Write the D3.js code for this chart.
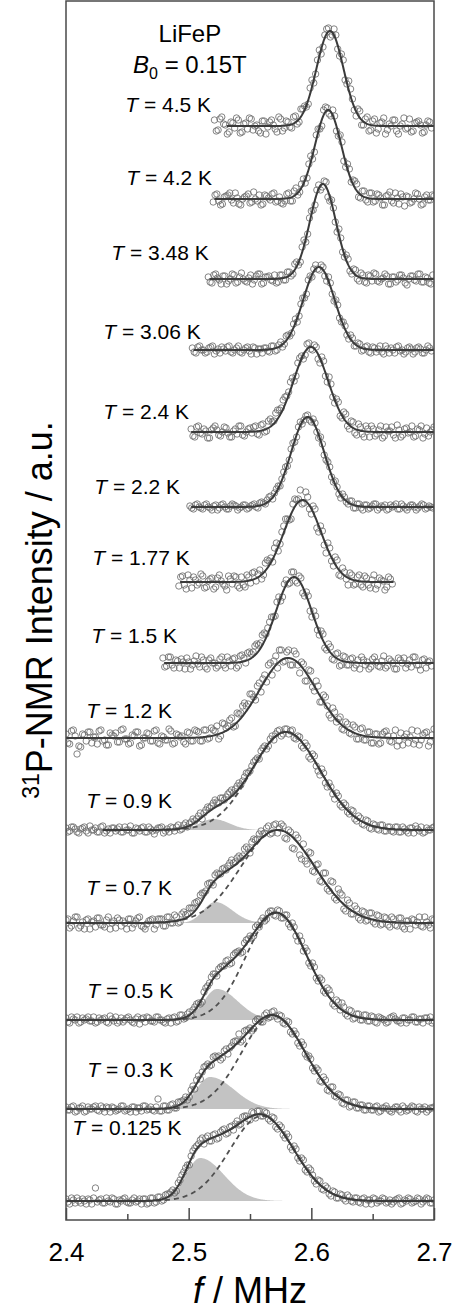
<!DOCTYPE html>
<html>
<head>
<meta charset="utf-8">
<script src="https://cdn.jsdelivr.net/npm/d3@7"></script>
<style>
  body { margin: 0; background: #fff; }
  svg { display: block; }
  text { font-family: "Liberation Sans", Arial, sans-serif; fill: #000; }
</style>
</head>
<body>
<svg id="chart" width="454" height="1314"></svg>
<script>
// ---------------------------------------------------------------
// 31P-NMR spectra of LiFeP at B0 = 0.15 T, stacked by temperature
// ---------------------------------------------------------------

// Temperatures (K), top to bottom
const temperatures = ["4.5", "4.2", "3.48", "3.06", "2.4", "2.2", "1.77", "1.5", "1.2", "0.9", "0.7", "0.5", "0.3", "0.125"];

// Vertical offset of each spectrum's baseline (a.u.)
const offsets = [10.94, 10.21, 9.41, 8.70, 7.88, 7.13, 6.38, 5.57, 4.82, 3.90, 2.97, 2.00, 1.11, 0.19];

// Two interleaved frequency sweeps per spectrum: first point of each (MHz), common step (MHz)
const sweepStartA = [2.521, 2.520, 2.516, 2.503, 2.502, 2.501, 2.492, 2.479, 2.400, 2.400, 2.400, 2.400, 2.400, 2.400];
const sweepStartB = [2.5225, 2.5215, 2.5175, 2.5045, 2.5035, 2.5025, 2.4935, 2.4805, 2.4015, 2.4015, 2.4015, 2.4015, 2.4015, 2.4015];
const sweepStep = 0.003;

// Measured intensities above baseline, in units of 0.01 a.u. (sweep A)
const int_4p5 = [6,-4,9,1,-6,3,8,-7,2,-3,7,0,-5,5,-8,4,1,-6,7,-2,
  4,-2,10,4,17,19,38,43,66,72,91,98,91,91,70,66,42,37,16,17,1,7,-5,
  5,-7,3,8,-4,0,6,-8,2,-3,7,-5,4,1,-6,5,-2];
const int_4p2 = [-3,5,-6,2,4,-1,6,-5,0,3,-4,7,-2,-6,4,1,5,-3,2,-5,
  5,-2,8,4,15,16,35,40,64,70,89,91,83,83,63,57,32,30,19,15,1,8,-3,
  6,-2,4,-6,3,7,-4,1,5,-7,2,-3,6,0,-5,4,-1,3];
const int_3p48 = [2,-4,5,-1,3,-5,0,4,-3,6,-2,1,-5,3,5,-4,2,-1,4,-3,
  4,-1,7,5,17,17,39,45,68,74,94,92,97,78,71,47,41,22,20,5,9,-2,4,
  -4,3,6,-2,0,5,-5,2,-3,4,1,-6,3,-1,5,-3,2,-4,4];
const int_3p06 = [2,-3,4,0,-2,3,-4,1,3,-1,4,-3,2,-2,0,3,-4,2,1,-3,
  2,-2,4,0,8,6,15,17,31,34,52,56,74,81,81,85,74,73,56,50,32,28,15,15,4,7,-1,3,-2,
  3,-2,4,-4,1,2,-3,4,0,-2,3,-4,2,1,-3,4,-1];
const int_2p4 = [3,-5,6,-2,1,-6,4,2,-4,5,-1,-5,3,6,-3,0,4,
  5,-2,7,0,11,10,19,22,32,36,50,51,69,76,77,89,82,85,69,71,50,48,29,30,14,18,3,10,-3,5,-5,3,
  6,-4,2,-6,5,1,-3,7,-5,3,-1,6,-4,2,-6,4,0,5];
const int_2p2 = [1,-2,3,-1,2,0,-3,2,-1,3,-2,1,2,-3,0,2,-1,
  2,0,4,4,7,11,14,21,28,40,47,64,70,85,87,92,85,84,69,63,47,40,25,20,9,10,3,6,-1,3,-3,
  2,-1,3,-3,1,2,-2,0,3,-2,1,-3,2,0,-1,3,-2,1,-1];
const int_1p77 = [-4,6,-7,2,5,-3,8,-6,1,4,-5,7,-2,-8,3,6,-4,
  5,-5,5,9,1,12,7,22,24,34,31,50,63,62,78,82,92,79,85,68,73,50,51,29,34,16,22,6,10,-3,7,-2,7,-5,
  4,-6,7,-3,2,-8,5,-2];
const int_1p5 = [5,-3,6,-5,2,4,-6,1,-2,7,-4,3,-6,5,0,-3,6,-5,2,
  4,-5,7,5,10,9,17,18,28,29,41,46,61,62,79,79,91,82,87,70,71,52,52,33,32,15,19,4,9,-3,7,-2,4,
  -5,3,6,-2,-6,4,1,-4,7,-3,2,-6,5,0,-5,3,6,-2,-7,4,1,-3];
const int_1p2 = [4,-6,8,-16,-9,3,6,-5,1,7,-3,-7,5,2,-4,8,-1,-6,3,6,-8,0,5,-3,7,-5,2,-2,9,-6,4,1,-4,6,-3,8,
  6,-3,8,0,8,12,2,14,12,20,12,24,32,32,44,41,52,46,63,73,63,82,88,76,86,73,87,73,76,57,
  68,51,57,36,43,32,20,26,19,9,16,5,13,-1,9,-2,6,-5,4,
  -6,4,7,-3,2,-8,5,1,-5,8,-2,-7,3,6,-4,9];
const int_0p9 = [2,-1,3,-2,1,3,-3,0,2,-2,4,-1,-3,2,1,-2,3,0,-3,2,-1,3,-2,1,-4,2,3,-1,-2,2,
  3,0,5,3,8,9,14,11,20,22,27,28,32,30,36,40,41,47,49,57,59,68,72,79,84,84,94,96,100,96,
  101,99,92,94,84,87,73,76,64,55,57,43,43,31,34,23,25,16,19,9,12,5,9,1,5,0,5,-1,3,-2,
  3,-2,1,-3,2,4,-1,-3,2,0,3];
const int_0p7 = [3,-5,2,6,-3,-6,4,1,-4,5,-2,3,-6,2,5,-3,0,4,-5,2,6,-4,-1,3,-6,4,
  4,-3,6,0,6,1,11,9,15,20,22,30,32,40,38,50,49,55,57,63,61,67,67,76,70,84,84,92,90,97,
  90,99,95,97,84,91,74,85,64,62,71,52,58,42,50,34,42,25,34,28,12,20,9,14,3,11,3,10,-1,7,-1,5,-4,4,
  -3,5,-6,2,4,-2,6,-4,1,-5,3];
const int_0p5 = [2,-3,1,3,-2,0,3,-1,-3,2,1,-2,4,-1,-3,2,0,3,-2,1,-4,2,3,-1,-2,3,0,-3,2,
  2,-2,5,1,6,4,13,17,18,32,37,46,44,53,54,60,57,67,69,68,80,84,84,95,99,99,107,109,104,109,
  102,105,93,93,79,79,72,57,57,42,42,29,32,25,14,18,17,6,10,1,6,0,5,-1,4,
  -2,3,1,-3,2,4,-1,-3,2,0,3,-2,1,-3,2,3,-1];
const int_0p3 = [2,-1,3,-2,1,-3,2,0,3,-2,1,2,-3,1,-1,3,-2,0,2,-3,1,3,-1,2,-2,
  10,-2,3,-1,5,1,7,9,9,19,20,33,37,43,43,52,52,49,58,55,63,68,75,69,79,81,80,90,87,94,
  91,97,93,94,86,88,77,78,66,67,55,53,41,41,28,32,19,22,13,15,6,9,2,7,1,4,-1,3,-1,
  2,-3,1,3,-2,0,2,-3,1,-1,3,-2,2,0,-3,1,2];
const int_0p125 = [2,-3,1,3,-2,0,2,-3,13,1,-2,3,-1,2,-3,0,3,-2,1,-1,2,
  2,-3,3,-2,4,0,6,7,11,10,21,29,36,45,53,57,63,63,60,66,62,69,72,68,75,77,76,84,85,81,
  88,90,85,89,82,84,74,76,66,67,54,55,43,43,31,33,26,17,20,11,13,5,9,3,6,0,4,-1,3,
  -2,3,1,-3,2,0,3,-2,1,-1,2,-3,1,3,-2,0,2,-1,3,-2,1];

// Measured intensities above baseline, in units of 0.01 a.u. (sweep B)
const int_4p5_b = [-5,7,2,-8,4,-2,6,-6,3,8,-4,1,-7,5,-1,6,-3,9,-5,5,
  -1,9,2,17,20,22,46,52,76,79,97,89,97,77,72,46,45,27,10,15,1,9,-4,
  7,-3,4,-8,2,6,-5,0,8,-2,-6,3,5,-7,1,4];
const int_4p2_b = [4,-2,-5,3,6,-4,1,-6,2,5,-3,0,4,-5,3,-1,6,-2,-4,-2,
  6,-2,11,7,20,21,43,47,70,73,92,85,89,68,64,38,35,17,18,2,8,-1,6,
  -3,5,1,-6,4,-2,6,-5,2,3,-4,0,5,-6,2,-1,4];
const int_3p48_b = [-3,4,1,-5,3,-2,5,-4,2,0,-3,4,-1,5,-5,2,3,-2,-4,4,
  -1,7,3,15,14,32,37,61,69,89,89,98,82,79,57,50,27,24,8,10,0,6,-3,
  4,-2,5,-3,1,3,-5,2,-1,4,-4,0,3,-2,5,-3,1,-5];
const int_3p06_b = [-2,3,0,-3,2,4,-1,-3,1,3,-2,0,4,-3,2,-1,3,-4,1,2,
  -1,4,-1,5,3,14,14,26,28,46,52,70,73,85,80,83,69,67,49,45,28,24,11,12,4,6,0,4,
  -3,2,1,-2,4,-3,0,3,-1,-4,2,1,-2,3,-3,0,2];
const int_2p4_b = [-4,5,-1,3,-6,2,6,-3,0,4,-5,1,-2,6,-4,3,-1,
  6,-3,8,1,13,11,22,24,35,40,54,56,74,73,88,83,87,73,75,56,55,35,33,16,20,6,11,-1,8,-2,6,
  -5,3,-2,6,-4,1,5,-6,2,-3,4,0,-5,3,6,-2,-4,2];
const int_2p2_b = [-1,2,0,-2,3,-1,1,-3,2,0,-2,3,1,-1,2,-2,1,
  3,-1,5,3,10,8,18,21,35,41,58,65,80,83,91,87,88,75,70,52,45,30,26,13,13,5,6,-1,3,-1,
  2,-2,1,3,-1,0,-3,2,1,-2,3,-1,0,2,-3,1,2,-1,0];
const int_1p77_b = [5,-3,7,-6,2,-1,6,-5,3,-7,4,1,-4,6,-2,5,-6,
  -3,7,-1,10,8,3,19,21,20,39,38,56,63,63,83,83,78,90,73,76,54,56,37,39,21,25,7,14,3,9,-3,5,-3,
  6,-3,2,-7,4,1,-5,3];
const int_1p5_b = [-4,6,-2,3,-5,1,5,-6,2,-1,6,-4,3,0,-5,4,-2,6,-3,
  5,-3,8,0,11,11,19,20,30,35,46,47,66,66,83,80,91,80,85,67,67,46,47,28,29,13,16,3,10,-2,6,-2,
  5,-2,-6,3,1,-4,6,-3,2,-5,4,0,-6,3,5,-1,-4,6,-2,3,-5,2];
const int_1p2_b = [-5,7,2,-8,4,-3,6,1,-6,8,-2,-7,3,5,-4,9,-1,-5,2,6,-7,0,4,-3,8,-6,1,-2,7,-5,3,2,-6,5,-3,7,
  -3,8,-1,10,7,-1,15,10,18,11,25,25,35,34,44,38,55,59,56,75,77,70,88,77,88,73,84,65,74,57,
  67,47,52,36,41,23,30,16,21,8,14,4,11,-1,10,-2,6,-5,4,
  -5,6,2,-4,8,-3,-7,4,1,-6,7,-2,5,-8,3];
const int_0p9_b = [-2,3,1,-3,2,-1,4,0,-2,3,-3,1,2,-1,3,-2,0,4,-3,1,2,-2,3,-1,0,2,-3,1,3,-1,
  5,1,7,6,11,11,17,17,23,24,30,27,32,33,38,37,44,45,53,57,64,70,71,82,81,91,90,99,94,101,
  96,100,91,93,82,84,71,74,59,61,47,47,36,37,25,27,18,20,11,14,6,10,2,6,1,5,-1,3,-1,3,
  -2,3,-1,2,-3,1,3,-2,0,2];
const int_0p7_b = [4,-3,6,-5,1,3,-6,2,5,-2,-4,6,0,-5,3,2,-6,4,-1,5,-3,-6,2,4,-2,4,
  -3,6,0,8,0,9,8,15,15,21,28,30,39,40,48,49,54,53,60,60,65,65,74,74,81,83,89,89,95,89,
  98,90,99,85,93,75,88,68,79,59,70,51,59,41,50,32,41,23,30,14,23,9,17,5,12,2,10,1,8,-2,6,-2,6,-2,
  5,-4,2,-6,3,1,-3,6,-2,4];
const int_0p5_b = [-2,3,0,-3,2,1,-1,3,-2,0,2,-3,1,3,-1,-2,2,0,-3,3,1,-2,2,-1,3,0,-2,1,-3,
  3,-1,5,2,8,10,16,16,28,34,43,46,51,54,59,56,65,68,67,77,81,82,93,93,102,101,109,105,110,102,
  105,96,97,84,84,69,69,54,53,39,40,27,30,16,20,10,13,4,9,2,6,0,5,-1,3,
  -3,2,0,-2,3,1,-1,2,-3,0,3,-2,1,2,-1,-3];
const int_0p3_b = [-1,2,-3,1,3,-2,0,2,-1,3,-3,1,2,-2,0,3,-1,-3,2,1,-2,3,0,-1,2,
  -2,3,-1,4,1,7,8,12,12,23,29,30,42,45,44,53,53,51,60,61,67,68,67,78,79,78,88,90,87,96,
  92,98,90,93,85,87,75,75,63,64,52,50,38,39,27,29,18,22,12,14,5,9,3,7,1,4,-1,3,-1,
  3,-2,1,0,-3,2,-1,3,-2,1,2,-3,0,2,-1,1];
const int_0p125_b = [-1,3,-2,0,2,-3,1,3,-1,2,-2,0,3,-3,1,2,-1,-2,3,0,-3,
  2,-2,3,-1,4,1,7,9,8,18,26,33,36,50,55,61,57,65,60,67,63,71,67,74,71,80,77,85,82,89,
  83,90,85,88,80,83,72,74,63,64,51,52,40,41,29,31,20,21,12,15,7,10,3,7,2,6,0,3,-1,
  2,-3,1,3,-2,0,2,-1,-3,1,3,-2,0,2,-1,3,-3,1,2,-2];

const sweepA = [int_4p5, int_4p2, int_3p48, int_3p06, int_2p4, int_2p2, int_1p77,
  int_1p5, int_1p2, int_0p9, int_0p7, int_0p5, int_0p3, int_0p125];
const sweepB = [int_4p5_b, int_4p2_b, int_3p48_b, int_3p06_b, int_2p4_b, int_2p2_b, int_1p77_b,
  int_1p5_b, int_1p2_b, int_0p9_b, int_0p7_b, int_0p5_b, int_0p3_b, int_0p125_b];

// Fitted main line: Gaussian centre (MHz), width sigma (MHz), amplitude (a.u.)
const mainCenter = [2.6152, 2.6137, 2.6094, 2.6062, 2.5996, 2.5970, 2.5928, 2.5858, 2.5810, 2.5793, 2.5727, 2.5716, 2.5691, 2.5597];
const mainWidth  = [0.0110, 0.0107, 0.0106, 0.0128, 0.0140, 0.0135, 0.0152, 0.0145, 0.0230, 0.0280, 0.0300, 0.0245, 0.0260, 0.0260];
const mainAmp    = [0.95, 0.89, 0.95, 0.83, 0.85, 0.90, 0.82, 0.86, 0.80, 0.98, 0.93, 1.07, 0.93, 0.85];

// Fitted low-frequency component (below ~1 K): centre, left/right widths, amplitude
const sideCenter = [null, null, null, null, null, null, null, null, null, 2.5200, 2.5215, 2.5230, 2.5175, 2.5094];
const sideWidthL = [null, null, null, null, null, null, null, null, null, 0.0110, 0.0095, 0.0106, 0.0114, 0.0114];
const sideWidthR = [null, null, null, null, null, null, null, null, null, 0.0130, 0.0140, 0.0170, 0.0195, 0.0195];
const sideAmp    = [null, null, null, null, null, null, null, null, null, 0.11, 0.21, 0.31, 0.32, 0.43];

// Frequency span of each fit curve (MHz)
const fitFrom = [2.531, 2.521, 2.517, 2.504, 2.502, 2.502, 2.493, 2.480, 2.400, 2.430, 2.400, 2.400, 2.400, 2.400];
const fitTo   = [2.700, 2.700, 2.700, 2.700, 2.700, 2.700, 2.667, 2.700, 2.700, 2.700, 2.700, 2.700, 2.700, 2.700];

// Axis ticks
const majorTicks = [2.4, 2.5, 2.6, 2.7];
const minorTicks = [2.45, 2.55, 2.65];

// ---------------------------------------------------------------
// Layout
// ---------------------------------------------------------------
const W = 454, H = 1314;
const margin = { top: 0, right: 20, bottom: 94, left: 66 };
const innerW = W - margin.left - margin.right;
const innerH = H - margin.top - margin.bottom;

// Temperature label anchors (left edge in MHz, text baseline in a.u.)
const labelF = [2.4483, 2.4491, 2.4369, 2.4304, 2.4304, 2.4231, 2.4214, 2.4206, 2.4165, 2.4165, 2.4165, 2.4174, 2.4174, 2.4051];
const labelY = [11.08, 10.35, 9.60, 8.81, 8.01, 7.26, 6.55, 5.77, 5.02, 4.12, 3.25, 2.22, 1.43, 0.85];

const x = d3.scaleLinear().domain([2.4, 2.7]).range([0, innerW]);
const y = d3.scaleLinear().domain([0, 12.2]).range([innerH, 0]);

const svg = d3.select("#chart");
const g = svg.append("g").attr("transform", `translate(${margin.left},${margin.top})`);

g.append("clipPath").attr("id", "plot-clip")
  .append("rect").attr("x", 0).attr("y", 0).attr("width", innerW).attr("height", innerH);

const plot = g.append("g").attr("clip-path", "url(#plot-clip)");

// Model components
function mainLine(i, f) {
  const d = f - mainCenter[i];
  return mainAmp[i] * Math.exp(-d * d / (2 * mainWidth[i] * mainWidth[i]));
}
function sideLine(i, f) {
  if (sideAmp[i] == null) return 0;
  const d = f - sideCenter[i];
  const s = d < 0 ? sideWidthL[i] : sideWidthR[i];
  return sideAmp[i] * Math.exp(-d * d / (2 * s * s));
}

const line = d3.line().x(d => x(d[0])).y(d => y(d[1]));
const area = d3.area().x(d => x(d[0])).y0(d => y(d[2])).y1(d => y(d[1]));

temperatures.forEach((T, i) => {
  const base = offsets[i];
  const grid = d3.range(fitFrom[i], fitTo[i] + 1e-9, 0.0005);

  // shaded low-frequency component
  if (sideAmp[i] != null) {
    plot.append("path")
      .datum(grid.map(f => [f, base + sideLine(i, f), base]))
      .attr("d", area)
      .attr("fill", "#c3c3c3")
      .attr("stroke", "none");
  }

  // measured points from both sweeps
  const pts = sweepA[i].map((v, k) => [sweepStartA[i] + k * sweepStep, base + v / 100])
    .concat(sweepB[i].map((v, k) => [sweepStartB[i] + k * sweepStep, base + v / 100]));
  plot.append("g")
    .selectAll("circle")
    .data(pts)
    .join("circle")
    .attr("cx", d => x(d[0]))
    .attr("cy", d => y(d[1]))
    .attr("r", 3.2)
    .attr("fill", "none")
    .attr("stroke", "#6e6e6e")
    .attr("stroke-width", 0.85);

  // dashed main component
  if (sideAmp[i] != null) {
    plot.append("path")
      .datum(grid.map(f => [f, base + mainLine(i, f)]))
      .attr("d", line)
      .attr("fill", "none")
      .attr("stroke", "#505050")
      .attr("stroke-width", 1.8)
      .attr("stroke-dasharray", "5,4");
  }

  // total fit
  plot.append("path")
    .datum(grid.map(f => [f, base + mainLine(i, f) + sideLine(i, f)]))
    .attr("d", line)
    .attr("fill", "none")
    .attr("stroke", "#3a3a3a")
    .attr("stroke-width", 2);

  // temperature label
  const lab = g.append("text")
    .attr("x", x(labelF[i]))
    .attr("y", y(labelY[i]))
    .attr("font-size", 21);
  lab.append("tspan").attr("font-style", "italic").text("T");
  lab.append("tspan").text(` = ${T} K`);
});

// Frame
g.append("rect")
  .attr("x", 0).attr("y", 1)
  .attr("width", innerW).attr("height", innerH - 1)
  .attr("fill", "none")
  .attr("stroke", "#4a4a4a")
  .attr("stroke-width", 1.5);

// Bottom axis: inward ticks
const xAxis = g.append("g")
  .attr("transform", `translate(0,${innerH})`)
  .call(d3.axisBottom(x).tickValues(majorTicks).tickSizeInner(-12).tickSizeOuter(0)
    .tickPadding(23).tickFormat(d3.format(".1f")));
xAxis.select(".domain").remove();
xAxis.selectAll(".tick line").attr("stroke", "#4a4a4a").attr("stroke-width", 1.5);
xAxis.selectAll(".tick text")
  .attr("font-size", 26)
  .attr("font-family", "'Liberation Sans', Arial, sans-serif")
  .attr("fill", "#000");

const xMinor = g.append("g")
  .attr("transform", `translate(0,${innerH})`)
  .call(d3.axisBottom(x).tickValues(minorTicks).tickSizeInner(-6).tickSizeOuter(0).tickFormat(""));
xMinor.select(".domain").remove();
xMinor.selectAll(".tick line").attr("stroke", "#4a4a4a").attr("stroke-width", 1.5);

// Axis titles
const xTitle = svg.append("text")
  .attr("x", margin.left + innerW / 2)
  .attr("y", 1303)
  .attr("text-anchor", "middle")
  .attr("font-size", 36);
xTitle.append("tspan").attr("font-style", "italic").text("f");
xTitle.append("tspan").text(" / MHz");

const yTitle = svg.append("text")
  .attr("transform", `translate(52,${margin.top + innerH / 2}) rotate(-90)`)
  .attr("text-anchor", "middle")
  .attr("font-size", 36);
yTitle.append("tspan").attr("font-size", 23).attr("dy", -13).text("31");
yTitle.append("tspan").attr("dy", 13).text("P-NMR Intensity / a.u.");

// Sample annotation
g.append("text")
  .attr("x", x(2.501)).attr("y", y(11.78))
  .attr("text-anchor", "middle")
  .attr("font-size", 24)
  .text("LiFeP");
const ann2 = g.append("text")
  .attr("x", x(2.501)).attr("y", y(11.47))
  .attr("text-anchor", "middle")
  .attr("font-size", 24);
ann2.append("tspan").attr("font-style", "italic").text("B");
ann2.append("tspan").attr("font-size", 16).attr("dy", 6).text("0");
ann2.append("tspan").attr("dy", -6).text(" = 0.15T");
</script>
</body>
</html>
